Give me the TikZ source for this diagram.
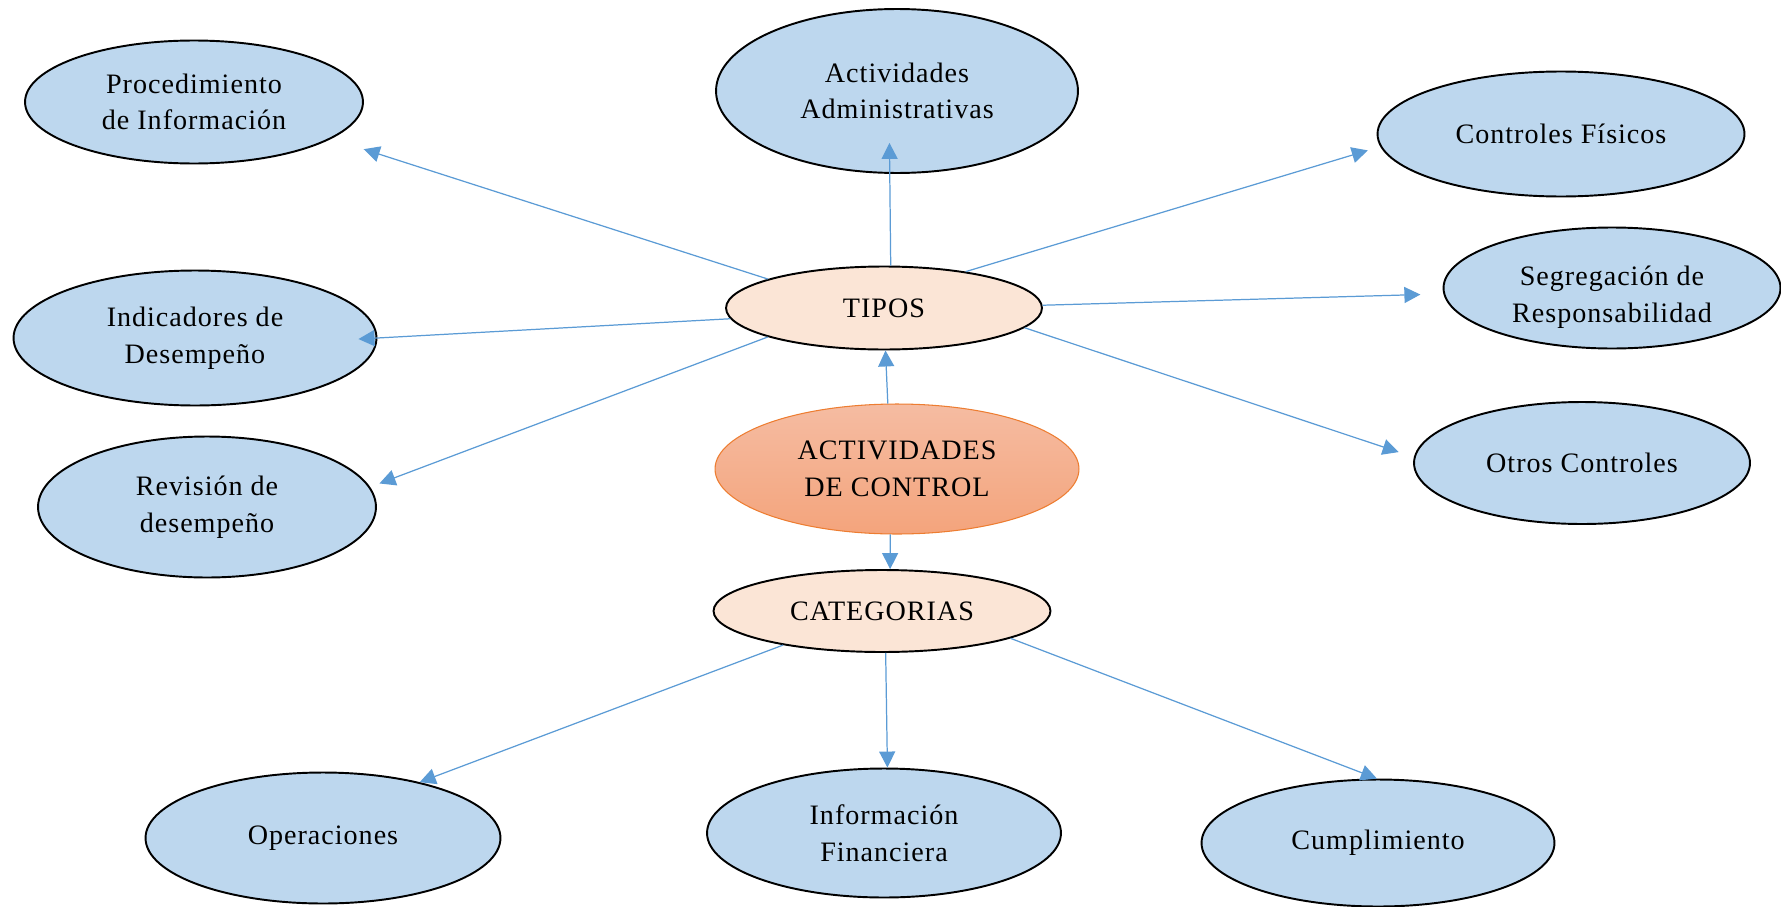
\documentclass[tikz,border=0pt]{standalone}
\usepackage{fontspec}
\setmainfont{Liberation Serif}[LetterSpace=3.5]
\usetikzlibrary{shapes.geometric,arrows.meta}
\definecolor{hojaazul}{HTML}{BDD7EE}
\definecolor{tipocrema}{HTML}{FBE5D6}
\definecolor{flechaazul}{HTML}{5B9BD5}
\definecolor{naranjaborde}{HTML}{ED7D31}
\definecolor{naranjaarriba}{HTML}{F5BCA2}
\definecolor{naranjaabajo}{HTML}{F4A47C}

\begin{document}
\begin{tikzpicture}[x=0.02cm,y=-0.02cm,font=\fontsize{16}{20.8}\selectfont,
  >={Triangle[length=3.2mm,width=3.2mm]},
  hoja/.style={ellipse,draw=black,line width=1.1pt,fill=hojaazul,inner sep=0pt,align=center},
  grupo/.style={ellipse,draw=black,line width=1.1pt,fill=tipocrema,inner sep=0pt,align=center},
  centro/.style={ellipse,draw=naranjaborde,line width=0.6pt,top color=naranjaarriba,bottom color=naranjaabajo,inner sep=0pt,align=center},
  flecha/.style={->,draw=flechaazul,line width=0.7pt}]
\useasboundingbox (0,0) rectangle (1781,906);

\node[centro,minimum width=7.28cm,minimum height=2.6cm] (AC) at (897,469) {ACTIVIDADES\\DE CONTROL};
\node[grupo,minimum width=6.32cm,minimum height=1.66cm] (T) at (884,308) {TIPOS};
\node[grupo,minimum width=6.74cm,minimum height=1.64cm] (CAT) at (882,611) {CATEGORIAS};

% tipos
\node[hoja,minimum width=6.76cm,minimum height=2.46cm] (P) at (194,102) {Procedimiento\\de Información};
\node[hoja,minimum width=7.24cm,minimum height=3.28cm] (AA) at (897,91) {Actividades\\Administrativas};
\node[hoja,minimum width=7.34cm,minimum height=2.5cm] (CF) at (1561,134) {Controles Físicos};
\node[hoja,minimum width=6.74cm,minimum height=2.42cm,
  label={[align=center,yshift=-0.18cm]center:Segregación de\\Responsabilidad}] (SR) at (1612,288) {};
\node[hoja,minimum width=6.72cm,minimum height=2.44cm] (OC) at (1582,463) {Otros Controles};
\node[hoja,minimum width=7.26cm,minimum height=2.7cm] (ID) at (195,338) {Indicadores de\\Desempeño};
\node[hoja,minimum width=6.76cm,minimum height=2.82cm] (RD) at (207,507) {Revisión de\\desempeño};

% categorias
\node[hoja,minimum width=7.1cm,minimum height=2.62cm] (OP) at (323,838) {Operaciones};
\node[hoja,minimum width=7.08cm,minimum height=2.58cm] (IF) at (884,833) {Información\\Financiera};
\node[hoja,minimum width=7.06cm,minimum height=2.54cm] (CU) at (1378,843) {Cumplimiento};

\path (AC.98) edge [flecha] (T.-88);
\path (AC.-96) edge [flecha] (CAT.79);

\path (T.166) edge [flecha,shorten >=0.68cm] (P.-15.7);
\path (T.81.5) edge [flecha,shorten >=-0.62cm] (AA.-95);
\path (T.24.3) edge [flecha,shorten >=0.26cm] (CF.184.2);
\path (T.1.5) edge [flecha,shorten >=0.46cm] (SR.182.6);
\path (T.-8) edge [flecha,shorten >=0.32cm] (OC.178.7);
\path (T.184.8) edge [flecha,shorten >=-0.38cm] (ID.0.9);
\path (T.194) edge [flecha,shorten >=0.2cm] (RD.7.6);

\path (CAT.199.6) edge [flecha] (OP.30.4);
\path (CAT.-85) edge [flecha] (IF.87);
\path (CAT.-12.2) edge [flecha] (CU.91);

\end{tikzpicture}
\end{document}
